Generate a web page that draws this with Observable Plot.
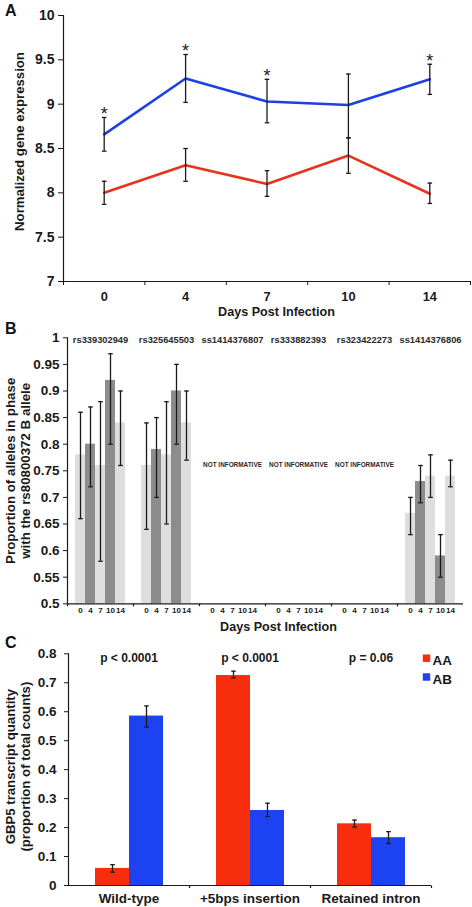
<!DOCTYPE html>
<html>
<head>
<meta charset="utf-8">
<script src="https://cdn.jsdelivr.net/npm/d3@7"></script>
<script src="https://cdn.jsdelivr.net/npm/@observablehq/plot@0.6"></script>
<style>
  body { margin: 0; background: #fff; }
  #fig { position: relative; width: 472px; height: 907px; overflow: hidden;
         font-family: "Liberation Sans", Arial, sans-serif; }
  .panel { position: absolute; left: 0; }
  .panel svg { overflow: visible; }
  .plabel { position: absolute; left: 5px; font-size: 16px; line-height: 16px; font-weight: bold; color: #111; }
</style>
</head>
<body>
<div id="fig">
  <div class="panel" id="pa" style="top:0px"></div>
  <div class="panel" id="pb" style="top:315px"></div>
  <div class="panel" id="pc" style="top:635px"></div>
  <div class="plabel" style="top:3px">A</div>
  <div class="plabel" style="top:321px">B</div>
  <div class="plabel" style="top:635px">C</div>
</div>
<script>
// ---------------- Panel A data ----------------
const days = ["0", "4", "7", "10", "14"];
const aBlueMean = [8.66, 9.29, 9.03, 8.99, 9.28];
const aBlueLow  = [8.47, 9.02, 8.79, 8.62, 9.11];
const aBlueHigh = [8.85, 9.56, 9.28, 9.34, 9.45];
const aRedMean  = [8.00, 8.31, 8.10, 8.42, 7.99];
const aRedLow   = [7.87, 8.13, 7.96, 8.22, 7.88];
const aRedHigh  = [8.13, 8.50, 8.25, 8.62, 8.11];
const aSignificant = [true, true, true, false, true];
const aYTicks = [7, 7.5, 8, 8.5, 9, 9.5, 10];

// ---------------- Panel B data ----------------
const snps = ["rs339302949", "rs325645503", "ss1414376807", "rs333882393", "rs323422273", "ss1414376806"];
const bInformative = [true, true, false, false, false, true];
const bMeanRs339302949 = [0.78, 0.80, 0.76, 0.92, 0.84];
const bLowRs339302949  = [0.66, 0.72, 0.58, 0.80, 0.76];
const bHighRs339302949 = [0.86, 0.87, 0.88, 0.97, 0.90];
const bMeanRs325645503 = [0.76, 0.79, 0.78, 0.90, 0.84];
const bLowRs325645503  = [0.64, 0.70, 0.65, 0.80, 0.77];
const bHighRs325645503 = [0.84, 0.85, 0.88, 0.95, 0.90];
const bMeanSs1414376806 = [0.67, 0.73, 0.74, 0.59, 0.74];
const bLowSs1414376806  = [0.63, 0.69, 0.70, 0.55, 0.72];
const bHighSs1414376806 = [0.70, 0.76, 0.78, 0.63, 0.77];
const bNote = "NOT INFORMATIVE";
const bNoteLevel = [0.761];
const bYTicks = [0.5, 0.55, 0.6, 0.65, 0.7, 0.75, 0.8, 0.85, 0.9, 0.95, 1];

// ---------------- Panel C data ----------------
const cCategories = ["Wild-type", "+5bps insertion", "Retained intron"];
const cGenotypes = ["AA", "AB"];
const cAAMean = [0.059, 0.725, 0.213];
const cAALow  = [0.046, 0.717, 0.202];
const cAAHigh = [0.072, 0.740, 0.226];
const cABMean = [0.585, 0.259, 0.165];
const cABLow  = [0.547, 0.238, 0.145];
const cABHigh = [0.620, 0.284, 0.186];
const cPValues = ["p < 0.0001", "p < 0.0001", "p = 0.06"];
const cYTicks = [0, 0.1, 0.2, 0.3, 0.4, 0.5, 0.6, 0.7, 0.8];

// ---------------- styling ----------------
const FONT = "'Liberation Sans', Arial, sans-serif";
const INK = "#1a1a1a";
const RED_LINE = "#e8321e", BLUE_LINE = "#1d3fe6";
const RED_BAR = "#f72d0e", BLUE_BAR = "#1d42f2";
const LIGHT = "#dedede", DARK = "#8c8c8c";
const capSym = {draw(ctx, size) { const w = Math.sqrt(size / Math.PI); ctx.moveTo(-w, 0); ctx.lineTo(w, 0); }};
const vTickSym = {draw(ctx, size) { const w = Math.sqrt(size / Math.PI); ctx.moveTo(0, 0); ctx.lineTo(0, w); }};

function errorBars(rows, pos) {
  return [
    Plot.ruleX(rows, {...pos, y1: "low", y2: "high", stroke: INK, strokeWidth: 1.3}),
    Plot.dot(rows, {...pos, y: "low", symbol: capSym, r: 2.3, stroke: INK, strokeWidth: 1.3, fill: "none"}),
    Plot.dot(rows, {...pos, y: "high", symbol: capSym, r: 2.3, stroke: INK, strokeWidth: 1.3, fill: "none"})
  ];
}

// ================= Panel A =================
const aBlue = days.map((d, i) => ({i, day: d, mean: aBlueMean[i], low: aBlueLow[i], high: aBlueHigh[i], sig: aSignificant[i]}));
const aRed = days.map((d, i) => ({i, day: d, mean: aRedMean[i], low: aRedLow[i], high: aRedHigh[i]}));

const plotA = Plot.plot({
  width: 472, height: 322,
  marginTop: 15, marginBottom: 41, marginLeft: 63, marginRight: 2,
  style: {fontFamily: FONT, background: "transparent", overflow: "visible"},
  x: {type: "linear", domain: [-0.5, days.length - 0.5], axis: null},
  y: {domain: [7, 10], axis: null},
  marks: [
    Plot.ruleY([7], {stroke: INK, strokeWidth: 1.2}),
    Plot.ruleX([-0.5], {stroke: INK, strokeWidth: 1.2}),
    Plot.axisY({ticks: aYTicks, tickSize: 5, tickPadding: 4, tickFormat: d => String(d),
                fontSize: 14, fontWeight: "bold", fill: INK, stroke: INK, label: null}),
    Plot.axisX({ticks: d3.range(days.length), tickSize: 0, tickPadding: 10.5, tickFormat: i => days[i],
                fontSize: 12.8, fontWeight: "bold", fill: INK, label: null}),
    Plot.axisX({ticks: d3.range(days.length + 1).map(k => k - 0.5), tickSize: 4, tickFormat: () => "",
                stroke: INK, label: null}),
    Plot.line(aRed, {x: "i", y: "mean", stroke: RED_LINE, strokeWidth: 2.6}),
    Plot.line(aBlue, {x: "i", y: "mean", stroke: BLUE_LINE, strokeWidth: 2.6}),
    ...errorBars(aRed, {x: "i"}),
    ...errorBars(aBlue, {x: "i"}),
    Plot.text(aBlue.filter(d => d.sig), {x: "i", y: "high", text: () => "*", dy: -3, fontSize: 18, fill: INK, lineAnchor: "middle"}),
    Plot.text(["Normalized gene expression"], {frameAnchor: "left", rotate: -90, dx: -43.5, dy: -7,
              text: d => d, textAnchor: "middle", fontSize: 13.2, fontWeight: "bold", fill: INK, lineAnchor: "middle"}),
    Plot.text(["Days Post Infection"], {frameAnchor: "bottom", dx: 9.5, dy: 30, text: d => d,
              fontSize: 12.6, fontWeight: "bold", fill: INK, lineAnchor: "middle"})
  ]
});
document.getElementById("pa").append(plotA);

// ================= Panel B =================
const bSeries = {
  "rs339302949": [bMeanRs339302949, bLowRs339302949, bHighRs339302949],
  "rs325645503": [bMeanRs325645503, bLowRs325645503, bHighRs325645503],
  "ss1414376806": [bMeanSs1414376806, bLowSs1414376806, bHighSs1414376806]
};
const bRows = [];
snps.forEach((s, k) => {
  if (!bInformative[k]) return;
  const [m, lo, hi] = bSeries[s];
  days.forEach((d, j) => bRows.push({snp: s, day: d, mean: m[j], low: lo[j], high: hi[j], shade: j % 2 ? "dark" : "light"}));
});
const bNotInformative = snps.filter((s, k) => !bInformative[k]);

const plotB = Plot.plot({
  width: 472, height: 320,
  marginTop: 22.3, marginBottom: 31.7, marginLeft: 65, marginRight: 7,
  style: {fontFamily: FONT, background: "transparent", overflow: "visible"},
  fx: {domain: snps, padding: 0, axis: null},
  x: {domain: days, paddingInner: 0, paddingOuter: 0.7, axis: null},
  y: {domain: [0.5, 1], axis: null},
  color: {domain: ["light", "dark"], range: [LIGHT, DARK]},
  marks: [
    Plot.barY(bRows, {fx: "snp", x: "day", y: "mean", fill: "shade", clip: true}),
    ...errorBars(bRows, {fx: "snp", x: "day"}),
    Plot.ruleY([0.5], {stroke: INK, strokeWidth: 1.2}),
    Plot.frame({anchor: "left", facetAnchor: "left", stroke: INK, strokeWidth: 1.2}),
    Plot.dot([0], {frameAnchor: "bottom-left", symbol: vTickSym, r: 2.5, stroke: INK, strokeWidth: 1.2, fill: "none"}),
    Plot.axisY({ticks: bYTicks, tickSize: 4, tickPadding: 4, tickFormat: d => String(+d.toFixed(2)),
                fontSize: 13.5, fontWeight: "bold", fill: INK, stroke: INK, label: null}),
    Plot.axisX({tickSize: 0, tickPadding: 4, fontSize: 8, fontWeight: "bold", fill: INK, label: null}),
    Plot.text(snps, {fx: d => d, frameAnchor: "top", dy: 2, text: d => d, fontSize: 9.3, fontWeight: "bold",
                     fill: "#2a2a2a", lineAnchor: "middle"}),
    Plot.text(bNotInformative, {fx: d => d, y: () => bNoteLevel[0], text: () => bNote, fontSize: 6.4,
                                fontWeight: "bold", fill: "#2a2a2a", lineAnchor: "middle"}),
    Plot.text(["Proportion of alleles in phase\nwith the rs80800372 B allele"], {facet: "super", frameAnchor: "left",
              rotate: -90, dx: -49.5, text: d => d, textAnchor: "middle", fontSize: 13.3, lineHeight: 1.13,
              fontWeight: "bold", fill: INK, lineAnchor: "middle"}),
    Plot.text(["Days Post Infection"], {facet: "super", frameAnchor: "bottom", dx: 13, dy: 23.3, text: d => d,
              fontSize: 12.6, fontWeight: "bold", fill: INK, lineAnchor: "middle"})
  ]
});
document.getElementById("pb").append(plotB);

// ================= Panel C =================
const cRows = [];
cCategories.forEach((c, i) => {
  cRows.push({cat: c, g: "AA", mean: cAAMean[i], low: cAALow[i], high: cAAHigh[i]});
  cRows.push({cat: c, g: "AB", mean: cABMean[i], low: cABLow[i], high: cABHigh[i]});
});
const cP = cCategories.map((c, i) => ({cat: c, p: cPValues[i]}));

const plotC = Plot.plot({
  width: 472, height: 272,
  marginTop: 18.3, marginBottom: 22, marginLeft: 67, marginRight: 40,
  style: {fontFamily: FONT, background: "transparent", overflow: "visible"},
  fx: {domain: cCategories, padding: 0, axis: null},
  x: {domain: cGenotypes, paddingInner: 0, paddingOuter: 0.75, axis: null},
  y: {domain: [0, 0.8], axis: null},
  color: {domain: cGenotypes, range: [RED_BAR, BLUE_BAR]},
  marks: [
    Plot.barY(cRows, {fx: "cat", x: "g", y: "mean", fill: "g"}),
    ...errorBars(cRows, {fx: "cat", x: "g"}),
    Plot.ruleY([0], {stroke: INK, strokeWidth: 1.2}),
    Plot.frame({anchor: "left", facetAnchor: "left", stroke: INK, strokeWidth: 1.2}),
    Plot.dot([0], {frameAnchor: "bottom-right", symbol: vTickSym, r: 2.5, stroke: INK, strokeWidth: 1.2, fill: "none"}),
    Plot.axisY({ticks: cYTicks, tickSize: 4, tickPadding: 8, tickFormat: d => String(+d.toFixed(1)),
                fontSize: 13.5, fontWeight: "bold", fill: INK, stroke: INK, label: null}),
    Plot.text(cCategories, {fx: d => d, frameAnchor: "bottom", dy: 12.7, text: d => d, fontSize: 13.5,
                            fontWeight: "bold", fill: INK, lineAnchor: "middle"}),
    Plot.text(cP, {fx: "cat", frameAnchor: "top", dy: 4.7, text: "p", fontSize: 12, fontWeight: "bold",
                   fill: INK, lineAnchor: "middle"}),
    ...cGenotypes.map((g, k) => Plot.dot([g], {facet: "super", frameAnchor: "top-right", dx: -5, dy: 4.4 + k * 18.8,
              symbol: "square", r: 4.2, fill: k === 0 ? RED_BAR : BLUE_BAR, stroke: "none"})),
    ...cGenotypes.map((g, k) => Plot.text([g], {facet: "super", frameAnchor: "top-right", dx: 1, dy: 6.7 + k * 18.8,
              text: d => d, textAnchor: "start", fontSize: 13.4, fontWeight: "bold", fill: INK, lineAnchor: "middle"})),
    Plot.text(["GBP5 transcript quantity\n(proportion of total counts)"], {facet: "super", frameAnchor: "left",
              rotate: -90, dx: -50.5, dy: -3, text: d => d, textAnchor: "middle", fontSize: 13.2, lineHeight: 1.12,
              fontWeight: "bold", fill: INK, lineAnchor: "middle"})
  ]
});
document.getElementById("pc").append(plotC);
</script>
</body>
</html>
